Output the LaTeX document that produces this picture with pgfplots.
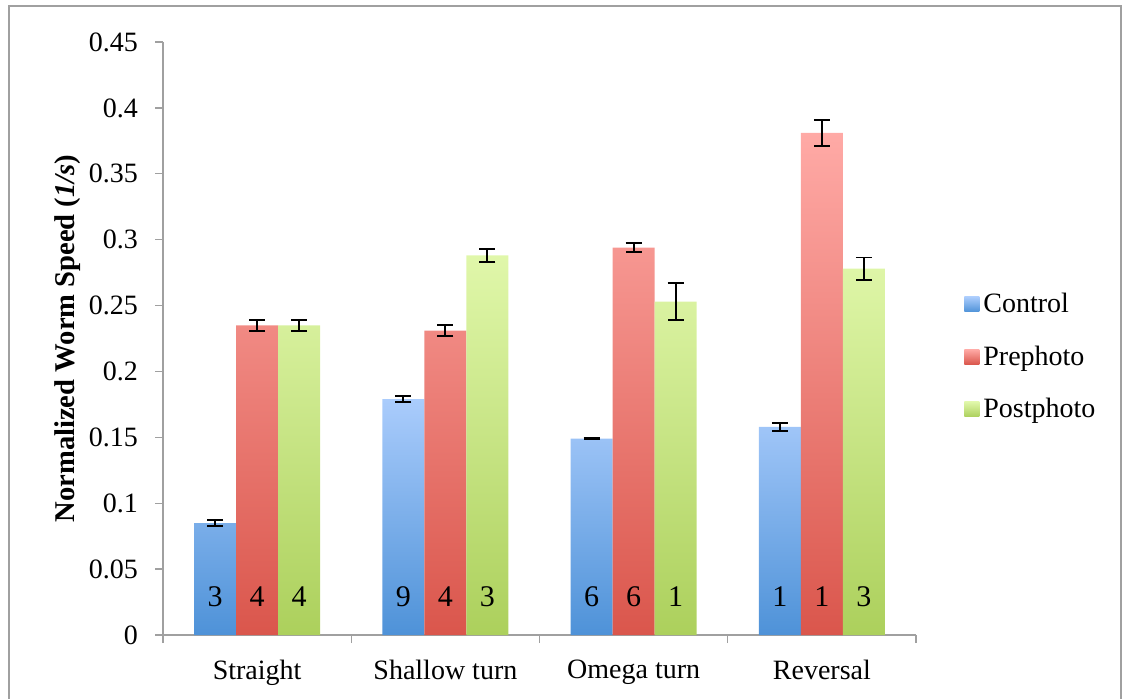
\documentclass[border=0pt]{standalone}
\usepackage{pgfplots}
\pgfplotsset{compat=1.18}
\usepackage{pgfplotstable}
\usepackage{fontspec}
\setmainfont{Liberation Serif}
\definecolor{ctop}{RGB}{170,204,252}
\definecolor{cbot}{RGB}{78,146,216}
\definecolor{ptop}{RGB}{255,170,166}
\definecolor{pbot}{RGB}{218,86,76}
\definecolor{qtop}{RGB}{224,247,170}
\definecolor{qbot}{RGB}{172,208,92}
\definecolor{axgray}{RGB}{160,160,160}
\pgfplotstableread{
x c ce p pe q qe
0 0.085 0.0020 0.235 0.0040 0.235 0.0040
1 0.179 0.0023 0.231 0.0040 0.288 0.0050
2 0.149 0.0006 0.294 0.0035 0.253 0.0140
3 0.158 0.0030 0.381 0.0100 0.278 0.0085
}\data
\begin{document}
\begin{tikzpicture}
\useasboundingbox (0pt,0pt) rectangle (564pt,349pt);
\draw[axgray, line width=0.6pt] (4.5pt,-2pt) -- (4.5pt,346pt) -- (560.5pt,346pt) -- (560.5pt,-2pt);
\begin{axis}[
  at={(81.5pt,31.5pt)}, anchor=south west,
  scale only axis, width=376.5pt, height=296.5pt,
  xmin=-0.5, xmax=3.5, ymin=0, ymax=0.45,
  ybar=0pt, bar width=21pt,
  axis x line=bottom, axis y line=left,
  axis line style={draw=axgray, line width=0.7pt, -},
  tick style={draw=axgray, line width=0.7pt},
  tick align=outside, major tick length=4pt,
  font=\fontsize{14}{16}\selectfont,
  ytick={0,0.05,0.1,0.15,0.2,0.25,0.3,0.35,0.4,0.45},
  yticklabels={0,0.05,0.1,0.15,0.2,0.25,0.3,0.35,0.4,0.45},
  yticklabel style={xshift=-5pt},
  xtick={-0.5,0.5,1.5,2.5,3.5},
  xticklabels={,,,,},
  extra x ticks={0,1,2,3},
  extra x tick labels={Straight,Shallow turn,Omega turn,Reversal},
  extra x tick style={major tick length=0pt, tick style={draw=none}},
  xticklabel style={yshift=-9pt},
  ylabel={\textbf{Normalized Worm Speed (\textit{1/s})}},
  ylabel style={at={(axis description cs:-0.126,0.5)}, anchor=center, font=\fontsize{14.3}{16}\selectfont},
  error bars/y dir=both, error bars/y explicit,
  error bars/error bar style={black, line width=0.9pt},
  error bars/error mark options={rotate=90, mark size=4pt, line width=0.9pt, black},
  legend style={at={(1.0637,0.469)}, anchor=west, draw=none, fill=none,
    inner sep=0pt, row sep=11pt, font=\fontsize{14}{16}\selectfont},
  legend cell align=left,
  legend image code/.code={\path[#1] (0pt,-3.75pt) rectangle (7.5pt,3.75pt);},
]
\addplot[draw=none, top color=ctop, bottom color=cbot] table[x=x, y=c, y error=ce]{\data};
\addplot[draw=none, top color=ptop, bottom color=pbot] table[x=x, y=p, y error=pe]{\data};
\addplot[draw=none, top color=qtop, bottom color=qbot] table[x=x, y=q, y error=qe]{\data};
\legend{Control,Prephoto,Postphoto}
\node[font=\fontsize{15}{16}\selectfont, xshift=-21pt] at (axis cs:0,0.0288) {3};
\node[font=\fontsize{15}{16}\selectfont] at (axis cs:0,0.0288) {4};
\node[font=\fontsize{15}{16}\selectfont, xshift=21pt] at (axis cs:0,0.0288) {4};
\node[font=\fontsize{15}{16}\selectfont, xshift=-21pt] at (axis cs:1,0.0288) {9};
\node[font=\fontsize{15}{16}\selectfont] at (axis cs:1,0.0288) {4};
\node[font=\fontsize{15}{16}\selectfont, xshift=21pt] at (axis cs:1,0.0288) {3};
\node[font=\fontsize{15}{16}\selectfont, xshift=-21pt] at (axis cs:2,0.0288) {6};
\node[font=\fontsize{15}{16}\selectfont] at (axis cs:2,0.0288) {6};
\node[font=\fontsize{15}{16}\selectfont, xshift=21pt] at (axis cs:2,0.0288) {1};
\node[font=\fontsize{15}{16}\selectfont, xshift=-21pt] at (axis cs:3,0.0288) {1};
\node[font=\fontsize{15}{16}\selectfont] at (axis cs:3,0.0288) {1};
\node[font=\fontsize{15}{16}\selectfont, xshift=21pt] at (axis cs:3,0.0288) {3};
\end{axis}
\end{tikzpicture}
\end{document}
